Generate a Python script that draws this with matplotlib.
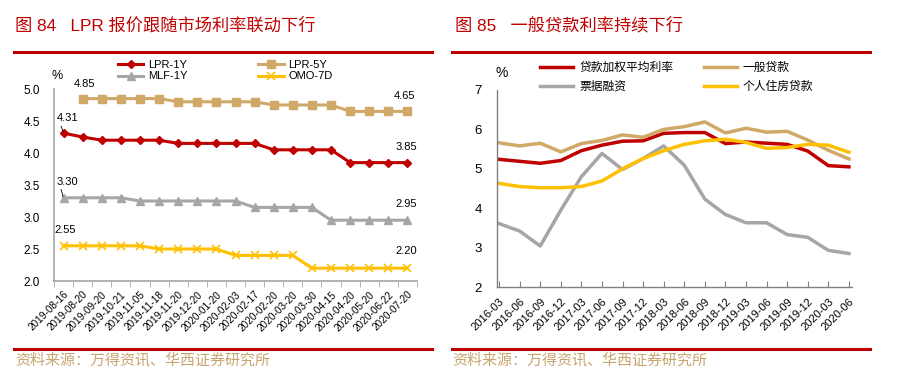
import matplotlib
matplotlib.use('Agg')
import numpy as np
from matplotlib import pyplot as plt
from matplotlib.lines import Line2D

plt.rcParams['font.family'] = ['Liberation Sans', 'Noto Sans CJK SC', 'DejaVu Sans']

# 图84 数据
dates84 = ['2019-08-16', '2019-08-20', '2019-09-20', '2019-10-21', '2019-11-05',
           '2019-11-18', '2019-11-20', '2019-12-20', '2020-01-20', '2020-02-03',
           '2020-02-17', '2020-02-20', '2020-03-20', '2020-03-30', '2020-04-15',
           '2020-04-20', '2020-05-20', '2020-06-22', '2020-07-20']
lpr_1y = [4.31, 4.25, 4.20, 4.20, 4.20, 4.20, 4.15, 4.15, 4.15, 4.15,
          4.15, 4.05, 4.05, 4.05, 4.05, 3.85, 3.85, 3.85, 3.85]
lpr_5y = [np.nan, 4.85, 4.85, 4.85, 4.85, 4.85, 4.80, 4.80, 4.80, 4.80,
          4.80, 4.75, 4.75, 4.75, 4.75, 4.65, 4.65, 4.65, 4.65]
mlf_1y = [3.30, 3.30, 3.30, 3.30, 3.25, 3.25, 3.25, 3.25, 3.25, 3.25,
          3.15, 3.15, 3.15, 3.15, 2.95, 2.95, 2.95, 2.95, 2.95]
omo_7d = [2.55, 2.55, 2.55, 2.55, 2.55, 2.50, 2.50, 2.50, 2.50, 2.40,
          2.40, 2.40, 2.40, 2.20, 2.20, 2.20, 2.20, 2.20, 2.20]

# 图85 数据
quarters85 = ['2016-03', '2016-06', '2016-09', '2016-12', '2017-03', '2017-06',
              '2017-09', '2017-12', '2018-03', '2018-06', '2018-09', '2018-12',
              '2019-03', '2019-06', '2019-09', '2019-12', '2020-03', '2020-06']
weighted = [5.24, 5.19, 5.14, 5.21, 5.46, 5.60, 5.70, 5.71, 5.90, 5.92,
            5.92, 5.64, 5.68, 5.65, 5.62, 5.45, 5.08, 5.05]
general = [5.66, 5.58, 5.65, 5.43, 5.64, 5.72, 5.86, 5.80, 6.00, 6.07,
           6.19, 5.91, 6.03, 5.93, 5.95, 5.73, 5.47, 5.25]
bills = [3.61, 3.42, 3.04, 3.95, 4.80, 5.39, 4.98, 5.26, 5.58, 5.09,
         4.23, 3.84, 3.63, 3.63, 3.33, 3.26, 2.93, 2.85]
mortgage = [4.63, 4.55, 4.52, 4.52, 4.55, 4.69, 5.00, 5.26, 5.46, 5.62,
            5.71, 5.75, 5.67, 5.52, 5.54, 5.62, 5.60, 5.42]

RED = '#c00000'
TAN = '#d0a867'
GRAY = '#a6a6a6'
YELLOW = '#ffc000'
SRC = '#c8a46e'

W, H = 906, 392
fig = plt.figure(figsize=(W / 100, H / 100), dpi=100)


def fx(px):
    return px / W


def fy(py):
    return 1 - py / H


# 标题和红线
fig.text(fx(15), fy(25), '图 84   LPR 报价跟随市场利率联动下行', color=RED,
         fontsize=12.4, va='center', ha='left')
fig.text(fx(455), fy(25), '图 85   一般贷款利率持续下行', color=RED,
         fontsize=12.4, va='center', ha='left')
for x0, x1 in [(14, 432), (452, 870)]:
    for yy in (52, 349):
        fig.add_artist(Line2D([fx(x0), fx(x1)], [fy(yy), fy(yy)], color=RED, lw=2.2))
fig.text(fx(15), fy(360), '资料来源：万得资讯、华西证券研究所', color=SRC,
         fontsize=10.8, va='center', ha='left')
fig.text(fx(452), fy(360), '资料来源：万得资讯、华西证券研究所', color=SRC,
         fontsize=10.8, va='center', ha='left')

# ---------- 图84 ----------
ax1 = fig.add_axes([fx(54), fy(281), fx(417) - fx(54), (281 - 89) / H])
x1 = np.arange(len(dates84))
h1, = ax1.plot(x1, lpr_1y, color=RED, lw=2.2, marker='D', ms=4.5, label='LPR-1Y')
h2, = ax1.plot(x1, lpr_5y, color=TAN, lw=2.2, marker='s', ms=6, label='LPR-5Y')
h3, = ax1.plot(x1, mlf_1y, color=GRAY, lw=2.2, marker='^', ms=5.5, label='MLF-1Y')
h4, = ax1.plot(x1, omo_7d, color=YELLOW, lw=2.2, marker='x', ms=6, mew=1.2, label='OMO-7D')
ax1.set_xlim(-0.5, len(dates84) - 0.5)
ax1.set_ylim(2.0, 5.0)
ax1.set_yticks(np.arange(2.0, 5.01, 0.5))
ax1.set_yticklabels(['%.1f' % v for v in np.arange(2.0, 5.01, 0.5)])
ax1.set_xticks(x1)
ax1.set_xticklabels(dates84, rotation=45, ha='right', rotation_mode='anchor', fontsize=7.2)
ax1.set_xticks(np.arange(-0.5, len(dates84), 1.0), minor=True)
ax1.tick_params(axis='x', which='major', length=0, pad=6)
ax1.tick_params(axis='x', which='minor', length=4, direction='out', color=GRAY)
ax1.tick_params(axis='y', length=0, pad=10, labelsize=8.5)
for s in ['top', 'right']:
    ax1.spines[s].set_visible(False)
for s in ['left', 'bottom']:
    ax1.spines[s].set_color(GRAY)
    ax1.spines[s].set_linewidth(1.2)

ann = [(1, lpr_5y[1], '4.85', 1, 8.4, False),
       (0, lpr_1y[0], '4.31', 3, 8.5, True),
       (0, mlf_1y[0], '3.30', 3, 9.5, True),
       (0, omo_7d[0], '2.55', 1, 9.2, False),
       (18, lpr_5y[18], '4.65', -2, 9.0, False),
       (18, lpr_1y[18], '3.85', -1, 9.0, False),
       (18, mlf_1y[18], '2.95', -1, 9.4, False),
       (18, omo_7d[18], '2.20', -1, 10.0, False)]
for xi, yv, txt, dx, dy, leader in ann:
    props = None
    if leader:
        props = dict(arrowstyle='-', color='black', lw=0.6, shrinkA=0, shrinkB=1,
                     relpos=(0.15, 0.0))
    ax1.annotate(txt, xy=(xi, yv), xytext=(dx, dy), textcoords='offset points',
                 ha='center', va='baseline', fontsize=8, arrowprops=props)
fig.text(fx(57), fy(76), '%', fontsize=9, ha='center', va='center')

fig.legend([h1, h3, h2, h4], ['LPR-1Y', 'MLF-1Y', 'LPR-5Y', 'OMO-7D'],
           ncol=2, loc='upper left', bbox_to_anchor=(fx(110), fy(52)),
           frameon=False, fontsize=8, handlelength=2.3, handletextpad=0.4,
           columnspacing=6.4, labelspacing=0.15, borderpad=0.2)

# ---------- 图85 ----------
ax2 = fig.add_axes([fx(497), fy(287), fx(852) - fx(497), (287 - 90) / H])
x2 = np.arange(len(quarters85))
g1, = ax2.plot(x2, weighted, color=RED, lw=2.5, label='贷款加权平均利率')
g2, = ax2.plot(x2, general, color=TAN, lw=2.5, label='一般贷款')
g3, = ax2.plot(x2, bills, color=GRAY, lw=2.5, label='票据融资')
g4, = ax2.plot(x2, mortgage, color=YELLOW, lw=2.5, label='个人住房贷款')
ax2.set_xlim(-0.1, len(quarters85) - 0.85)
ax2.set_ylim(2, 7)
ax2.set_yticks(range(2, 8))
ax2.set_xticks(x2)
ax2.set_xticklabels(quarters85, rotation=45, ha='right', rotation_mode='anchor', fontsize=8)
ax2.tick_params(axis='x', length=4, direction='in', color='#808080', pad=7)
ax2.tick_params(axis='y', length=0, pad=11, labelsize=9.5)
for s in ['top', 'right']:
    ax2.spines[s].set_visible(False)
for s in ['left', 'bottom']:
    ax2.spines[s].set_color('#808080')
    ax2.spines[s].set_linewidth(1.0)
fig.text(fx(502), fy(73), '%', fontsize=10, ha='center', va='center')

fig.legend([g1, g3, g2, g4], ['贷款加权平均利率', '票据融资', '一般贷款', '个人住房贷款'],
           ncol=2, loc='upper left', bbox_to_anchor=(fx(532), fy(54)),
           frameon=False, fontsize=8.5, handlelength=2.8, handletextpad=0.5,
           columnspacing=2.6, labelspacing=0.55, borderpad=0.2)

fig.savefig('out.png', dpi=100)
